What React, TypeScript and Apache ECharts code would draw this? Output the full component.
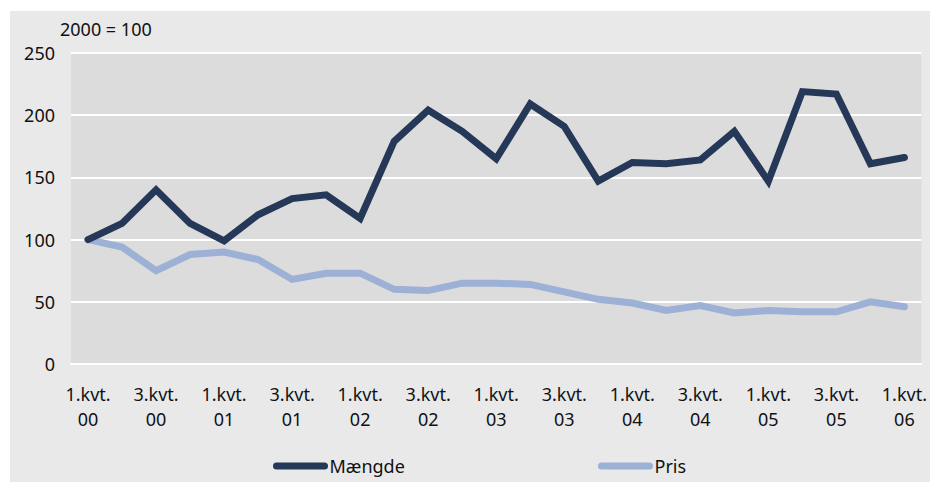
import React, { useEffect, useRef } from "react";
import * as echarts from "echarts";

const categories = [
  "1.kvt.\n00", "2.kvt.\n00", "3.kvt.\n00", "4.kvt.\n00",
  "1.kvt.\n01", "2.kvt.\n01", "3.kvt.\n01", "4.kvt.\n01",
  "1.kvt.\n02", "2.kvt.\n02", "3.kvt.\n02", "4.kvt.\n02",
  "1.kvt.\n03", "2.kvt.\n03", "3.kvt.\n03", "4.kvt.\n03",
  "1.kvt.\n04", "2.kvt.\n04", "3.kvt.\n04", "4.kvt.\n04",
  "1.kvt.\n05", "2.kvt.\n05", "3.kvt.\n05", "4.kvt.\n05",
  "1.kvt.\n06",
];

const maengde = [
  100, 113, 140, 113, 99, 120, 133, 136, 117, 179, 204, 187, 165,
  209, 191, 147, 162, 161, 164, 187, 147, 219, 217, 161, 166,
];

const pris = [
  100, 94, 75, 88, 90, 84, 68, 73, 73, 60, 59, 65, 65,
  64, 58, 52, 49, 43, 47, 41, 43, 42, 42, 50, 46,
];

const yTicks = { min: 0, max: 250, interval: 50 };

const FONT = "'Noto Sans', sans-serif";
const FS = 18;
const TEXT = "#111111";
const DARK = "#253858";
const LIGHT = "#9db0d6";
const legendIcon =
  "path://M3.5,0 H51.5 A3.5,3.5 0 0 1 51.5,7 H3.5 A3.5,3.5 0 0 1 3.5,0 Z";

export default function App() {
  const ref = useRef<HTMLDivElement>(null);
  useEffect(() => {
    if (!ref.current) return;
    const chart = echarts.init(ref.current, null, { renderer: "svg" });
    chart.setOption({
      animation: false,
      backgroundColor: "#ffffff",
      textStyle: { fontFamily: FONT },
      graphic: [
        {
          type: "rect",
          z: -10,
          silent: true,
          shape: { x: 10, y: 11, width: 920, height: 471 },
          style: { fill: "#e9e9e9" },
        },
        {
          type: "text",
          x: 60,
          y: 29,
          style: {
            text: "2000 = 100",
            fill: TEXT,
            font: `${FS}px ${FONT}`,
            textVerticalAlign: "middle",
          },
        },
      ],
      grid: {
        left: 71,
        right: 8,
        top: 53,
        bottom: 119,
        show: true,
        backgroundColor: "#dcdcdc",
        borderWidth: 0,
        containLabel: false,
      },
      legend: [
        {
          data: ["Mængde"],
          left: 268,
          top: 452,
          icon: legendIcon,
          itemWidth: 56,
          itemHeight: 7,
          itemGap: 0,
          textStyle: { fontSize: FS, color: TEXT, fontFamily: FONT, padding: [0, 0, 0, -4] },
        },
        {
          data: ["Pris"],
          left: 593,
          top: 452,
          icon: legendIcon,
          itemWidth: 56,
          itemHeight: 7,
          itemGap: 0,
          textStyle: { fontSize: FS, color: TEXT, fontFamily: FONT, padding: [0, 0, 0, -4] },
        },
      ],
      xAxis: {
        type: "category",
        data: categories,
        boundaryGap: true,
        axisLine: { show: true, lineStyle: { color: "#ffffff", width: 2 } },
        axisTick: { show: false },
        axisLabel: {
          interval: 1,
          color: TEXT,
          fontSize: FS,
          fontFamily: FONT,
          lineHeight: 25,
          margin: 17,
        },
        splitLine: { show: false },
      },
      yAxis: {
        type: "value",
        min: yTicks.min,
        max: yTicks.max,
        interval: yTicks.interval,
        axisLine: { show: false },
        axisTick: { show: false },
        axisLabel: { color: TEXT, fontSize: FS, fontFamily: FONT, margin: 16 },
        splitLine: { show: true, lineStyle: { color: "#ffffff", width: 2 } },
      },
      series: [
        {
          name: "Mængde",
          type: "line",
          data: maengde,
          showSymbol: false,
          symbol: "none",
          color: DARK,
          lineStyle: { color: DARK, width: 7, cap: "round", join: "miter" },
          z: 3,
        },
        {
          name: "Pris",
          type: "line",
          data: pris,
          showSymbol: false,
          symbol: "none",
          color: LIGHT,
          lineStyle: { color: LIGHT, width: 7, cap: "round", join: "miter" },
          z: 2,
        },
      ],
    });
    return () => chart.dispose();
  }, []);
  return (
    <div
      ref={ref}
      style={{ position: "fixed", left: 0, top: 0, width: 930, height: 483 }}
    />
  );
}
